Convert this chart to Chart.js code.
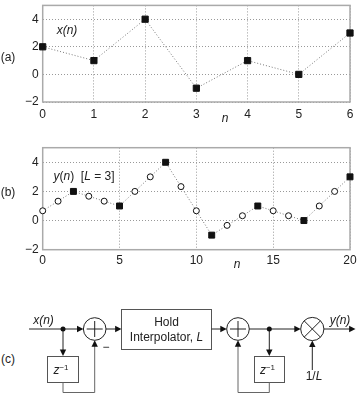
<!DOCTYPE html>
<html lang="en">
<head>
    <meta charset="UTF-8">
    <title>Linear interpolation by hold interpolator</title>
    <script src="https://cdn.jsdelivr.net/npm/chart.js"></script>
    <style>
        * {
            margin: 0;
            padding: 0;
            box-sizing: border-box;
        }

        body {
            background: #fff;
            width: 358px;
            height: 394px;
            overflow: hidden;
            font-family: "Liberation Sans", Arial, sans-serif;
            color: #222;
        }

        .page {
            position: relative;
            width: 358px;
            height: 394px;
        }

        canvas, svg {
            position: absolute;
            left: 0;
        }

        .lbl {
            position: absolute;
            font-size: 12px;
            line-height: 14px;
            white-space: pre;
            transform: translate(-50%, -50%);
        }

        .it {
            font-style: italic;
        }

        svg text {
            font-family: "Liberation Sans", Arial, sans-serif;
            font-size: 12px;
            fill: #222;
        }
    </style>
</head>
<body>
    <div class="page">
        <canvas id="chartA" width="358" height="122" style="top:0"></canvas>
        <canvas id="chartB" width="358" height="127" style="top:140px"></canvas>

        <div class="lbl" style="left:8px; top:57px">(a)</div>
        <div class="lbl it" style="left:67px; top:30px">x(n)</div>
        <div class="lbl it" style="left:225px; top:118px">n</div>

        <div class="lbl" style="left:8px; top:192px">(b)</div>
        <div class="lbl" style="left:84px; top:176px"><span class="it">y</span>(<span class="it">n</span>)  [<span class="it">L</span> = 3]</div>
        <div class="lbl it" style="left:237px; top:264px">n</div>

        <div class="lbl" style="left:8px; top:359px">(c)</div>

        <svg width="358" height="394" viewBox="0 0 358 394" style="top:0">
            <g stroke="#222" stroke-width="1" fill="none">
                <!-- input and first differencer -->
                <line x1="29" y1="329" x2="78" y2="329"/>
                <line x1="63" y1="329" x2="63" y2="351"/>
                <rect x="47.5" y="356.5" width="31" height="26" stroke="#555"/>
                <polyline points="63,382.5 63,392.5 94.7,392.5 94.7,346" stroke="#666"/>
                <circle cx="94.7" cy="329" r="11.3"/>
                <line x1="86.7" y1="329" x2="102.7" y2="329"/>
                <line x1="94.7" y1="321" x2="94.7" y2="337"/>
                <line x1="106" y1="329" x2="116" y2="329"/>
                <!-- hold interpolator -->
                <rect x="121.5" y="309.5" width="90" height="40" stroke="#555"/>
                <line x1="211.5" y1="329" x2="221" y2="329"/>
                <!-- accumulator -->
                <circle cx="238" cy="329" r="11.3"/>
                <line x1="230" y1="329" x2="246" y2="329"/>
                <line x1="238" y1="321" x2="238" y2="337"/>
                <line x1="249.3" y1="329" x2="295" y2="329"/>
                <line x1="269.3" y1="329" x2="269.3" y2="351"/>
                <rect x="254.5" y="356.5" width="30" height="26" stroke="#555"/>
                <polyline points="269.3,382.5 269.3,392.5 238,392.5 238,346" stroke="#666"/>
                <!-- scaling by 1/L -->
                <circle cx="312.3" cy="329" r="11.6"/>
                <line x1="304.1" y1="320.8" x2="320.5" y2="337.2"/>
                <line x1="304.1" y1="337.2" x2="320.5" y2="320.8"/>
                <line x1="312.3" y1="370" x2="312.3" y2="346"/>
                <line x1="324" y1="329" x2="350" y2="329"/>
            </g>
            <g fill="#111" stroke="none">
                <circle cx="63" cy="329" r="2.5"/>
                <circle cx="269.3" cy="329" r="2.5"/>
                <polygon points="83.4,329 77,325.8 77,332.2"/>
                <polygon points="63,356 59.8,349.6 66.2,349.6"/>
                <polygon points="94.7,340.3 91.5,346.7 97.9,346.7"/>
                <polygon points="121.5,329 115.1,325.8 115.1,332.2"/>
                <polygon points="226.7,329 220.3,325.8 220.3,332.2"/>
                <polygon points="269.3,356 266.1,349.6 272.5,349.6"/>
                <polygon points="238,340.3 234.8,346.7 241.2,346.7"/>
                <polygon points="300.7,329 294.3,325.8 294.3,332.2"/>
                <polygon points="312.3,340.6 309.1,347 315.5,347"/>
                <polygon points="355.5,329 349.1,325.8 349.1,332.2"/>
            </g>
            <text x="43.5" y="323.5" text-anchor="middle" font-style="italic">x(n)</text>
            <text x="106" y="351" text-anchor="middle">−</text>
            <text x="166.5" y="326" text-anchor="middle">Hold</text>
            <text x="166.5" y="341" text-anchor="middle">Interpolator, <tspan font-style="italic">L</tspan></text>
            <text x="61" y="374" text-anchor="middle" font-size="11"><tspan font-style="italic">z</tspan><tspan font-size="8" dy="-4">−1</tspan></text>
            <text x="267.5" y="374" text-anchor="middle" font-size="11"><tspan font-style="italic">z</tspan><tspan font-size="8" dy="-4">−1</tspan></text>
            <text x="314" y="379.5" text-anchor="middle">1/<tspan font-style="italic">L</tspan></text>
            <text x="340" y="324" text-anchor="middle" font-style="italic">y(n)</text>
        </svg>
    </div>

    <script>
        // (a) input sequence x(n)
        const nA = [0, 1, 2, 3, 4, 5, 6];
        const xVals = [2, 1, 4, -1, 1, 0, 3];
        const xTicksA = [0, 1, 2, 3, 4, 5, 6];

        // (b) interpolated output y(n), L = 3
        const nB = [0, 1, 2, 3, 4, 5, 6, 7, 8, 9, 10, 11, 12, 13, 14, 15, 16, 17, 18, 19, 20];
        const yVals = [0.67, 1.33, 2, 1.67, 1.33, 1, 2, 3, 4, 2.33, 0.67, -1, -0.33, 0.33, 1, 0.67, 0.33, 0, 1, 2, 3];
        const xTicksB = [0, 5, 10, 15, 20];

        const yTicks = [-2, 0, 2, 4];
        const L = 3;

        const tickFont = { family: '"Liberation Sans", Arial, sans-serif', size: 12 };

        // grey frame round the plot area, drawn under the points
        const framePlugin = {
            id: 'frame',
            beforeDatasetsDraw(chart) {
                const a = chart.chartArea;
                const c = chart.ctx;
                c.save();
                c.strokeStyle = '#aaa';
                c.lineWidth = 1.5;
                c.strokeRect(a.left, a.top, a.right - a.left, a.bottom - a.top);
                c.restore();
            }
        };

        function makeScales(xMax, xTicks, xPad, xHeight) {
            return {
                x: {
                    type: 'linear',
                    min: 0,
                    max: xMax,
                    afterBuildTicks: s => { s.ticks = xTicks.map(v => ({ value: v })); },
                    afterFit: s => {
                        s.height = xHeight;
                        s.paddingLeft = 0;
                        s.paddingRight = 0;
                    },
                    grid: { color: '#999', lineWidth: 1, drawTicks: false },
                    border: { display: false, dash: [1, 2] },
                    ticks: { font: tickFont, color: '#222', padding: xPad, autoSkip: false, maxRotation: 0 }
                },
                y: {
                    type: 'linear',
                    min: -2,
                    max: 5,
                    afterBuildTicks: s => { s.ticks = yTicks.map(v => ({ value: v })); },
                    afterFit: s => {
                        s.width = 42.7;
                        s.paddingTop = 0;
                        s.paddingBottom = 0;
                    },
                    grid: { color: '#999', lineWidth: 1, drawTicks: false },
                    border: { display: false, dash: [1, 2] },
                    ticks: {
                        font: tickFont,
                        color: '#222',
                        padding: 4,
                        callback: v => String(v).replace('-', '\u2212')
                    }
                }
            };
        }

        new Chart(document.getElementById('chartA'), {
            type: 'scatter',
            data: {
                datasets: [{
                    data: nA.map((n, i) => ({ x: n, y: xVals[i] })),
                    showLine: true,
                    clip: false,
                    borderColor: '#777',
                    borderWidth: 1,
                    borderDash: [1, 2],
                    pointStyle: 'rect',
                    pointRadius: 4.4,
                    pointBackgroundColor: '#111',
                    pointBorderColor: '#111',
                    pointBorderWidth: 1
                }]
            },
            options: {
                responsive: false,
                animation: false,
                layout: { padding: { top: 1, right: 8, left: 0, bottom: 0 } },
                plugins: { legend: { display: false }, tooltip: { enabled: false } },
                scales: makeScales(6, xTicksA, 5, 20)
            },
            plugins: [framePlugin]
        });

        // samples that coincide with x(n) are drawn as filled squares
        const isSample = ctx => ctx.dataIndex % L === L - 1;

        new Chart(document.getElementById('chartB'), {
            type: 'scatter',
            data: {
                datasets: [{
                    data: nB.map((n, i) => ({ x: n, y: yVals[i] })),
                    showLine: true,
                    clip: false,
                    borderColor: '#777',
                    borderWidth: 1,
                    borderDash: [1, 2],
                    pointStyle: ctx => isSample(ctx) ? 'rect' : 'circle',
                    pointRadius: ctx => isSample(ctx) ? 4.2 : 3,
                    pointBackgroundColor: ctx => isSample(ctx) ? '#111' : '#fff',
                    pointBorderColor: '#111',
                    pointBorderWidth: 1
                }]
            },
            options: {
                responsive: false,
                animation: false,
                layout: { padding: { top: 7.7, right: 8, left: 0, bottom: 0 } },
                plugins: { legend: { display: false }, tooltip: { enabled: false } },
                scales: makeScales(20, xTicksB, 3.5, 17.3)
            },
            plugins: [framePlugin]
        });
    </script>
</body>
</html>
